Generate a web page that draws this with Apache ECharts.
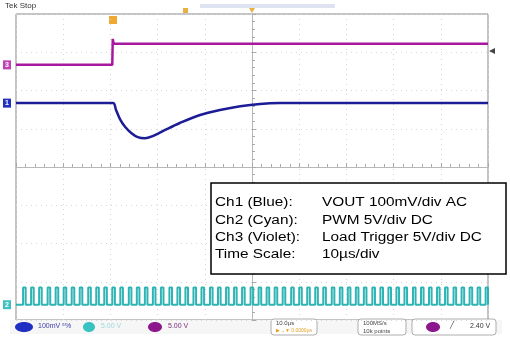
<!DOCTYPE html>
<html>
<head>
    <meta charset="UTF-8">
    <title>Load step</title>
    <style>
        html, body { margin: 0; padding: 0; background: #fff; }
        #main { width: 510px; height: 341px; }
    </style>
</head>
<body>
<div id="main"></div>
<script src="https://cdn.jsdelivr.net/npm/echarts@6/dist/echarts.min.js"></script>
<script>
    // time in us (screen centre = 0), amplitude in divisions
    var ch1Time = [-50, -29.45, -28.8, -28.0, -26.9, -25.6, -24.2, -22.7, -21.2, -18.4, -15.3, -11.0, -6.8, -2.5, 1.7, 5.9, 50];
    var ch1Div = [1.67, 1.67, 1.49, 1.26, 1.05, 0.89, 0.78, 0.75, 0.8, 0.97, 1.15, 1.36, 1.49, 1.59, 1.65, 1.67, 1.67];

    var ch3Time = [-50, -29.6, -29.5, -29.3, 50];
    var ch3Div = [2.67, 2.67, 3.35, 3.22, 3.22];

    // PWM pulse start times (us) and levels
    var pwmStarts = [-48.5, -46.8, -45.1, -43.3, -41.6, -39.9, -38.2, -36.5, -34.7, -33.0,
        -31.3, -29.6, -27.9, -26.1, -24.4, -22.7, -21.0, -19.3, -17.5, -15.8,
        -14.1, -12.4, -10.7, -8.9, -7.2, -5.5, -3.8, -2.1, -0.3, 1.4,
        3.1, 4.8, 6.5, 8.3, 10.0, 11.7, 13.4, 15.1, 16.9, 18.6,
        20.3, 22.0, 23.7, 25.5, 27.2, 28.9, 30.6, 32.3, 34.1, 35.8,
        37.5, 39.2, 40.9, 42.7, 44.4, 46.1, 47.8, 49.5];
    var pwmLow = -3.6;
    var pwmHigh = -3.15;
    var pulseWidth = 0.55;

    var textLabels = ['Ch1 (Blue):', 'Ch2 (Cyan):', 'Ch3 (Violet):', 'Time Scale:'];
    var textValues = ['VOUT 100mV/div AC', 'PWM 5V/div DC', 'Load Trigger 5V/div DC', '10\u00b5s/div'];

    function zip(a, b) {
        var out = [];
        for (var i = 0; i < a.length; i++) out.push([a[i], b[i]]);
        return out;
    }

    var pwmData = [[-50, pwmLow]];
    pwmStarts.forEach(function (t) {
        var end = Math.min(t + pulseWidth, 50);
        pwmData.push([t, pwmLow], [t, pwmHigh], [end, pwmHigh], [end, pwmLow]);
    });
    pwmData.push([50, pwmLow]);

    function chanMarker(name, level, color) {
        return {
            symbol: 'rect', symbolSize: [8, 9], symbolOffset: [-9, 0],
            data: [{ coord: [-50, level] }],
            itemStyle: { color: color },
            label: { show: true, position: 'inside', formatter: name, color: '#fff', fontSize: 7, fontWeight: 'bold' },
            silent: true
        };
    }

    var graphics = [
        { type: 'text', left: 5, top: 2, style: { text: 'Tek Stop', fontSize: 8, fill: '#333', fontFamily: 'Liberation Sans' } },
        { type: 'rect', shape: { x: 200, y: 4, width: 135, height: 4 }, style: { fill: '#dfe2f0' } },
        { type: 'rect', shape: { x: 183, y: 8, width: 5, height: 5 }, style: { fill: '#e8b040' } },
        { type: 'polygon', shape: { points: [[249, 8], [255, 8], [252, 13]] }, style: { fill: '#e8b040' } },
        { type: 'rect', shape: { x: 109, y: 16, width: 8, height: 8 }, style: { fill: '#f0a830' } },
        { type: 'polygon', shape: { points: [[495, 48], [495, 54], [489, 51]] }, style: { fill: '#444' } },
        // status bar
        { type: 'rect', shape: { x: 10, y: 320, width: 492, height: 14 }, style: { fill: '#f6f6f6' } },
        { type: 'ellipse', shape: { cx: 24, cy: 327, rx: 9, ry: 5 }, style: { fill: '#1f2fc4' } },
        { type: 'text', x: 38, y: 323, style: { text: '100mV \u2075%', fontSize: 7, fill: '#3a3aa8', fontFamily: 'Liberation Sans' } },
        { type: 'ellipse', shape: { cx: 89, cy: 327, rx: 6, ry: 5 }, style: { fill: '#39c2c2' } },
        { type: 'text', x: 101, y: 323, style: { text: '5.00 V', fontSize: 7, fill: '#9fd8d8', fontFamily: 'Liberation Sans' } },
        { type: 'ellipse', shape: { cx: 155, cy: 327, rx: 7, ry: 5 }, style: { fill: '#8c168c' } },
        { type: 'text', x: 168, y: 323, style: { text: '5.00 V', fontSize: 7, fill: '#7a2a7a', fontFamily: 'Liberation Sans' } },
        { type: 'rect', shape: { x: 271, y: 319, width: 46, height: 16, r: 3 }, style: { fill: '#fff', stroke: '#999', lineWidth: 0.8 } },
        { type: 'text', x: 276, y: 320, style: { text: '10.0\u00b5s', fontSize: 6, fill: '#444', fontFamily: 'Liberation Sans' } },
        { type: 'text', x: 276, y: 328, style: { text: '\u25b6\u2192\u25bc 0.0000\u00b5s', fontSize: 5, fill: '#e0a020', fontFamily: 'Liberation Sans' } },
        { type: 'rect', shape: { x: 358, y: 319, width: 48, height: 16, r: 3 }, style: { fill: '#fff', stroke: '#999', lineWidth: 0.8 } },
        { type: 'text', x: 363, y: 320, style: { text: '100MS/s', fontSize: 6, fill: '#444', fontFamily: 'Liberation Sans' } },
        { type: 'text', x: 363, y: 328, style: { text: '10k points', fontSize: 6, fill: '#444', fontFamily: 'Liberation Sans' } },
        { type: 'rect', shape: { x: 412, y: 319, width: 84, height: 16, r: 3 }, style: { fill: '#fff', stroke: '#999', lineWidth: 0.8 } },
        { type: 'ellipse', shape: { cx: 433, cy: 327, rx: 7, ry: 5 }, style: { fill: '#8c168c' } },
        { type: 'text', x: 450, y: 322, style: { text: '\u2571', fontSize: 7, fill: '#333', fontFamily: 'DejaVu Sans' } },
        { type: 'text', x: 470, y: 323, style: { text: '2.40 V', fontSize: 7, fill: '#333', fontFamily: 'Liberation Sans' } },
        // annotation box
        { type: 'rect', shape: { x: 211, y: 183, width: 295, height: 91 }, style: { fill: '#fff', stroke: '#000', lineWidth: 1.5 }, z: 100 }
    ];
    for (var i = 0; i < textLabels.length; i++) {
        graphics.push({
            type: 'text', x: 215, y: 197 + i * 17.3, scaleX: 1.28, z: 101,
            style: { text: textLabels[i], fontSize: 12, fill: '#000', fontFamily: 'Liberation Sans' }
        });
        graphics.push({
            type: 'text', x: 322, y: 197 + i * 17.3, scaleX: 1.28, z: 101,
            style: { text: textValues[i], fontSize: 12, fill: '#000', fontFamily: 'Liberation Sans' }
        });
    }

    var chart = echarts.init(document.getElementById('main'));
    chart.setOption({
        animation: false,
        backgroundColor: '#fff',
        grid: { left: 16, top: 14, width: 472, height: 306, show: true, borderColor: '#888', borderWidth: 1 },
        xAxis: {
            type: 'value', min: -50, max: 50, interval: 10,
            axisLine: { onZero: true, lineStyle: { color: '#b8b8b8' } },
            axisTick: { show: true, inside: true, length: 4, lineStyle: { color: '#aaa' } },
            minorTick: { show: true, splitNumber: 5, length: 3, lineStyle: { color: '#aaa' } },
            axisLabel: { show: false },
            splitLine: { show: true, lineStyle: { color: '#d6d6d6', type: [1, 4] } }
        },
        yAxis: {
            type: 'value', min: -4, max: 4, interval: 1,
            axisLine: { onZero: true, lineStyle: { color: '#b8b8b8' } },
            axisTick: { show: true, inside: true, length: 4, lineStyle: { color: '#aaa' } },
            minorTick: { show: true, splitNumber: 5, length: 3, lineStyle: { color: '#aaa' } },
            axisLabel: { show: false },
            splitLine: { show: true, lineStyle: { color: '#d6d6d6', type: [1, 4] } }
        },
        graphic: graphics,
        series: [
            {
                name: 'Ch3', type: 'line', data: zip(ch3Time, ch3Div), showSymbol: false,
                lineStyle: { color: '#a8189e', width: 2.5 }, markPoint: chanMarker('3', 2.67, '#c040b8')
            },
            {
                name: 'Ch1', type: 'line', data: zip(ch1Time, ch1Div), showSymbol: false, smooth: 0.3,
                lineStyle: { color: '#1c1c96', width: 2.5 }, markPoint: chanMarker('1', 1.67, '#2030c0')
            },
            {
                name: 'Ch2', type: 'line', data: pwmData, showSymbol: false,
                lineStyle: { color: '#2fb4b4', width: 2 }, markPoint: chanMarker('2', pwmLow, '#40c0c0')
            }
        ]
    });
</script>
</body>
</html>
